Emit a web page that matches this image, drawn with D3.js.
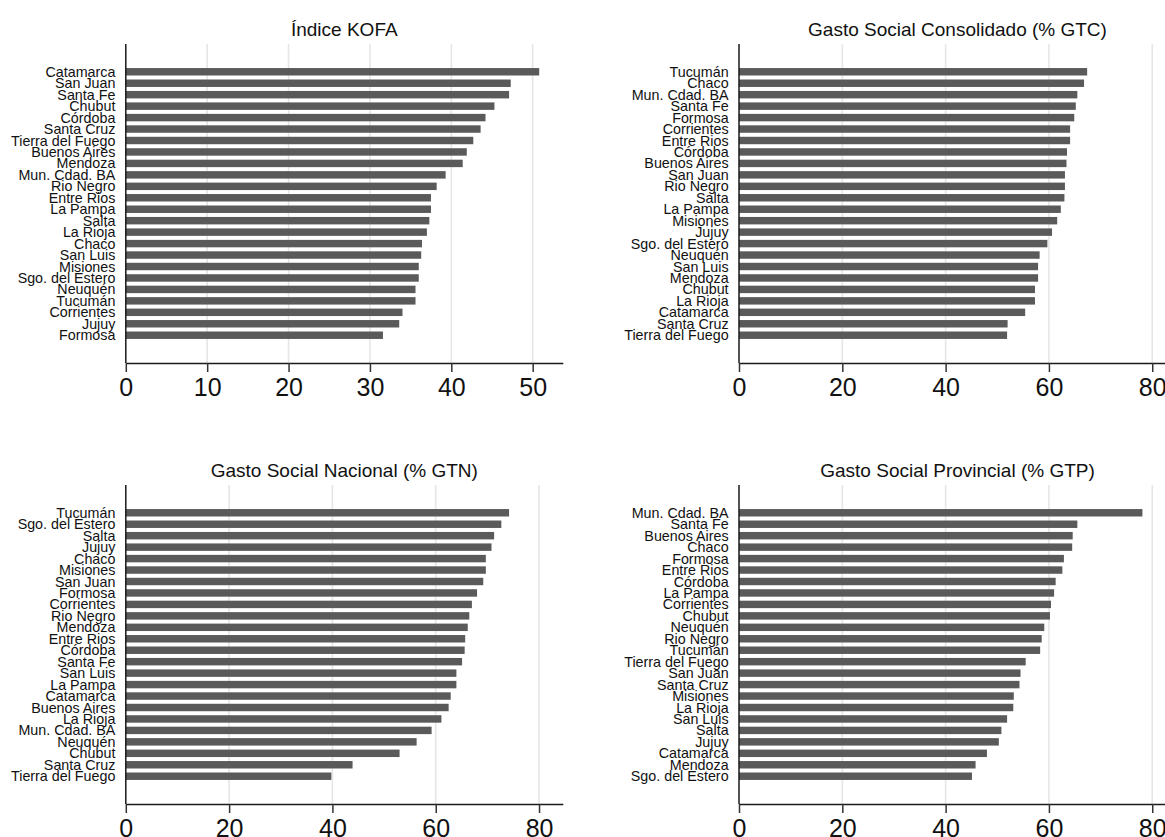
<!DOCTYPE html>
<html>
<head>
<meta charset="utf-8">
<script src="https://cdn.jsdelivr.net/npm/d3@7"></script>
<style>
  html, body { margin: 0; padding: 0; background: #fff; }
  svg { display: block; font-family: "Liberation Sans", Arial, Helvetica, sans-serif; }
</style>
</head>
<body>
<svg id="chart" width="1165" height="837"></svg>
<script>
// ---- Data ----
const kofaCategories = ["Catamarca","San Juan","Santa Fe","Chubut","Córdoba","Santa Cruz","Tierra del Fuego","Buenos Aires","Mendoza","Mun. Cdad. BA","Rio Negro","Entre Rios","La Pampa","Salta","La Rioja","Chaco","San Luis","Misiones","Sgo. del Estero","Neuquén","Tucumán","Corrientes","Jujuy","Formosa"];
const kofaValues = [50.8,47.3,47.1,45.3,44.2,43.6,42.7,41.9,41.4,39.3,38.2,37.5,37.5,37.3,37.0,36.4,36.3,36.0,36.0,35.6,35.6,34.0,33.6,31.6];

const gtcCategories = ["Tucumán","Chaco","Mun. Cdad. BA","Santa Fe","Formosa","Corrientes","Entre Rios","Córdoba","Buenos Aires","San Juan","Rio Negro","Salta","La Pampa","Misiones","Jujuy","Sgo. del Estero","Neuquén","San Luis","Mendoza","Chubut","La Rioja","Catamarca","Santa Cruz","Tierra del Fuego"];
const gtcValues = [67.4,66.8,65.5,65.2,64.9,64.1,64.1,63.5,63.4,63.1,63.1,63.0,62.3,61.6,60.6,59.7,58.2,57.9,57.9,57.3,57.3,55.4,52.0,51.9];

const gtnCategories = ["Tucumán","Sgo. del Estero","Salta","Jujuy","Chaco","Misiones","San Juan","Formosa","Corrientes","Rio Negro","Mendoza","Entre Rios","Córdoba","Santa Fe","San Luis","La Pampa","Catamarca","Buenos Aires","La Rioja","Mun. Cdad. BA","Neuquén","Chubut","Santa Cruz","Tierra del Fuego"];
const gtnValues = [74.2,72.7,71.3,70.8,69.7,69.7,69.2,68.0,67.0,66.5,66.2,65.7,65.6,65.1,64.0,64.0,62.9,62.5,61.1,59.2,56.3,53.0,43.9,39.8];

const gtpCategories = ["Mun. Cdad. BA","Santa Fe","Buenos Aires","Chaco","Formosa","Entre Rios","Córdoba","La Pampa","Corrientes","Chubut","Neuquén","Rio Negro","Tucumán","Tierra del Fuego","San Juan","Santa Cruz","Misiones","La Rioja","San Luis","Salta","Jujuy","Catamarca","Mendoza","Sgo. del Estero"];
const gtpValues = [78.1,65.5,64.6,64.5,62.9,62.6,61.3,61.0,60.4,60.2,59.1,58.6,58.3,55.5,54.5,54.3,53.2,53.1,51.9,50.8,50.3,48.0,45.8,45.1];

const titles = ["Índice KOFA","Gasto Social Consolidado (% GTC)","Gasto Social Nacional (% GTN)","Gasto Social Provincial (% GTP)"];
const kofaTicks = [0,10,20,30,40,50];
const gastoTicks = [0,20,40,60,80];

// ---- Layout ----
const panels = [
  {title: titles[0], cats: kofaCategories, vals: kofaValues, ticks: kofaTicks, xmax: 53.7, left: 125.8, top: 44, bottom: 363, titleY: 35.5, tickLabelY: 396},
  {title: titles[1], cats: gtcCategories, vals: gtcValues, ticks: gastoTicks, xmax: 84.6, left: 739, top: 44, bottom: 363, titleY: 35.5, tickLabelY: 396},
  {title: titles[2], cats: gtnCategories, vals: gtnValues, ticks: gastoTicks, xmax: 84.6, left: 125.8, top: 485, bottom: 804, titleY: 476.5, tickLabelY: 837},
  {title: titles[3], cats: gtpCategories, vals: gtpValues, ticks: gastoTicks, xmax: 84.6, left: 739, top: 485, bottom: 804, titleY: 476.5, tickLabelY: 837}
];
const plotWidth = 437;

const svg = d3.select("#chart");

panels.forEach(p => {
  const g = svg.append("g");
  const x = d3.scaleLinear().domain([0, p.xmax]).range([p.left, p.left + plotWidth]);
  const y = d3.scaleBand().domain(p.cats).range([p.top, p.bottom]).paddingInner(0.35).paddingOuter(2.1);

  // gridlines
  g.selectAll("line.grid").data(p.ticks.filter(t => t > 0)).enter().append("line")
    .attr("class", "grid")
    .attr("x1", d => x(d)).attr("x2", d => x(d))
    .attr("y1", p.top).attr("y2", p.bottom)
    .attr("stroke", "#e6e6e6").attr("stroke-width", 1.6);

  // bars
  g.selectAll("rect.bar").data(p.cats).enter().append("rect")
    .attr("class", "bar")
    .attr("x", x(0))
    .attr("y", d => y(d))
    .attr("width", (d, i) => x(p.vals[i]) - x(0))
    .attr("height", y.bandwidth())
    .attr("fill", "#5a5a5a");

  // category labels
  g.selectAll("text.cat").data(p.cats).enter().append("text")
    .attr("class", "cat")
    .attr("x", p.left - 10.4)
    .attr("y", d => y(d) + y.bandwidth() / 2)
    .attr("dy", "0.35em")
    .attr("text-anchor", "end")
    .attr("font-size", "14.3px")
    .attr("fill", "#111")
    .text(d => d);

  // x axis
  const xAxis = d3.axisBottom(x).tickValues(p.ticks).tickSize(9).tickSizeOuter(0).tickFormat(d3.format("d"));
  const ax = g.append("g").attr("transform", `translate(0,${p.bottom})`).call(xAxis);
  ax.select(".domain").attr("stroke", "#1a1a1a").attr("stroke-width", 1.5);
  ax.selectAll(".tick line").attr("stroke", "#333").attr("stroke-width", 1.5);
  ax.selectAll(".tick text")
    .attr("font-size", "25px")
    .attr("fill", "#111")
    .attr("font-family", "\"Liberation Sans\", Arial, sans-serif")
    .attr("y", p.tickLabelY - p.bottom)
    .attr("dy", null);

  // y axis line
  g.append("line")
    .attr("x1", p.left).attr("x2", p.left)
    .attr("y1", p.top).attr("y2", p.bottom)
    .attr("stroke", "#1a1a1a").attr("stroke-width", 1.5);

  // title
  g.append("text")
    .attr("x", p.left + plotWidth / 2)
    .attr("y", p.titleY)
    .attr("text-anchor", "middle")
    .attr("font-size", "19px")
    .attr("fill", "#111")
    .text(p.title);
});
</script>
</body>
</html>
